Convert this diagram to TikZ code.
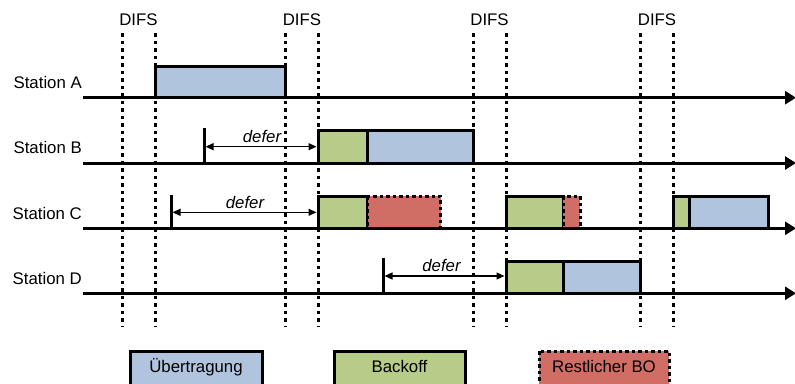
\documentclass[tikz,border=0pt]{standalone}
\usepackage{fontspec}
\setmainfont{Liberation Sans}
\usetikzlibrary{arrows.meta}
\definecolor{tblue}{RGB}{176,196,222}
\definecolor{tgreen}{RGB}{183,204,136}
\definecolor{tred}{RGB}{208,110,102}
\begin{document}
\begin{tikzpicture}[x=1pt,y=-1pt,
  every node/.style={font=\fontsize{16.8}{20}\selectfont, inner sep=0pt},
  difsline/.style={line width=3pt, dash pattern=on 3.5pt off 4pt},
  tline/.style={line width=3pt, -{Triangle[length=11pt,width=13pt]}},
  tick/.style={line width=3pt},
  bluebox/.style={fill=tblue, draw=black, line width=3pt},
  greenbox/.style={fill=tgreen, draw=black, line width=3pt},
  redbox/.style={fill=tred, draw=black, line width=3pt, dash pattern=on 3.5pt off 3pt},
  deferarrow/.style={line width=1.2pt, {Triangle[length=8pt,width=7pt]}-{Triangle[length=8pt,width=7pt]}},
  deferlabel/.style={anchor=base, font=\fontsize{16.8}{20}\selectfont\itshape},
  stationlabel/.style={anchor=base east},
  legendlabel/.style={anchor=base}
]
\useasboundingbox (0,0) rectangle (795,383);
\clip (0,0) rectangle (795,383);

% DIFS dotted lines
\foreach \x/\n in {122/d1,155/d2,285/d3,318/d4,473/d5,506/d6,640/d7,673/d8}{
  \coordinate (\n t) at (\x,33);
  \coordinate (\n b) at (\x,327);
  \draw[difsline] (\n t) -- (\n b);
}
\node[anchor=base] (difs1) at (138.5,25) {DIFS};
\node[anchor=base] (difs2) at (302,25) {DIFS};
\node[anchor=base] (difs3) at (489.5,25) {DIFS};
\node[anchor=base] (difs4) at (657,25) {DIFS};

% Station labels
\node[stationlabel] (labA) at (82,88.5) {Station A};
\node[stationlabel] (labB) at (82,153.5) {Station B};
\node[stationlabel] (labC) at (82,219) {Station C};
\node[stationlabel] (labD) at (82,284) {Station D};

% Boxes Station A
\draw[bluebox] (155,66) rectangle (285,97.7);
% Station B
\draw[greenbox] (318,130.5) rectangle (367.5,163);
\draw[bluebox] (367.5,130.5) rectangle (473,163);
% Station C
\draw[greenbox] (318,196) rectangle (367.5,228.3);
\draw[redbox] (367.5,196) rectangle (440.5,228.3);
\draw[greenbox] (506,196) rectangle (563,228.3);
\draw[redbox] (563,196) rectangle (580,228.3);
\draw[greenbox] (673,196) rectangle (689.5,228.3);
\draw[bluebox] (689.5,196) rectangle (768,228.3);
% Station D
\draw[greenbox] (506,261.5) rectangle (563,293.3);
\draw[bluebox] (563,261.5) rectangle (640.5,293.3);

% Station time lines
\coordinate (As) at (83,97.7);  \coordinate (Ae) at (796,97.7);
\coordinate (Bs) at (83,163);   \coordinate (Be) at (796,163);
\coordinate (Cs) at (83,228.3); \coordinate (Ce) at (796,228.3);
\coordinate (Ds) at (83,293.3); \coordinate (De) at (796,293.3);
\draw[tline] (As) -- (Ae);
\draw[tline] (Bs) -- (Be);
\draw[tline] (Cs) -- (Ce);
\draw[tline] (Ds) -- (De);

% defer ticks and arrows
\coordinate (tBt) at (204,128); \coordinate (tBb) at (204,163);
\coordinate (tCt) at (171,194.5); \coordinate (tCb) at (171,228.3);
\coordinate (tDt) at (383,258); \coordinate (tDb) at (383,293.3);
\draw[tick] (tBt) -- (tBb);
\draw[tick] (tCt) -- (tCb);
\draw[tick] (tDt) -- (tDb);
\coordinate (aBs) at (205.5,146.7); \coordinate (aBe) at (316.5,146.7);
\coordinate (aCs) at (172.5,212.3); \coordinate (aCe) at (316.5,212.3);
\coordinate (aDs) at (384.5,276); \coordinate (aDe) at (504.5,276);
\draw[deferarrow] (aBs) -- (aBe);
\draw[deferarrow] (aCs) -- (aCe);
\draw[deferarrow] (aDs) -- (aDe);
\node[deferlabel] (defB) at (262,142.5) {defer};
\node[deferlabel] (defC) at (245,208.3) {defer};
\node[deferlabel] (defD) at (441.5,271.5) {defer};

% Legend
\draw[bluebox] (130,351) rectangle (262,386);
\node[legendlabel] (legU) at (196,372) {Übertragung};
\draw[greenbox] (334,351) rectangle (465,386);
\node[legendlabel] (legB) at (399.5,372) {Backoff};
\draw[redbox] (539,351) rectangle (669,386);
\node[legendlabel] (legR) at (604,372) {Restlicher BO};
\end{tikzpicture}
\end{document}
